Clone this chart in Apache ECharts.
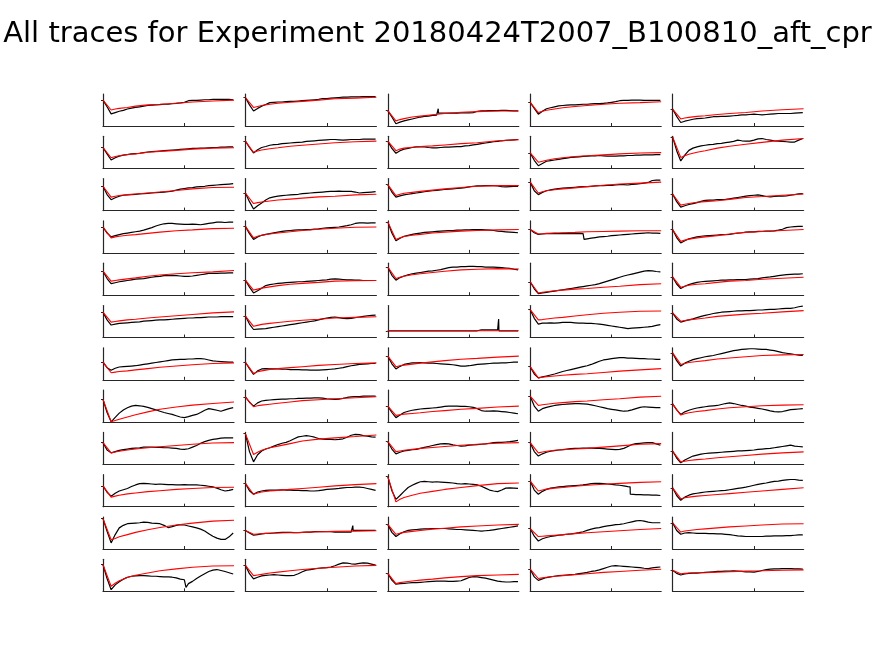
<!DOCTYPE html>
<html><head><meta charset="utf-8">
<script src="https://cdn.jsdelivr.net/npm/echarts@6/dist/echarts.min.js"></script>
<style>html,body{margin:0;padding:0;background:#fff}#c{width:875px;height:656px}</style>
</head><body><div id="c"></div>
<script>
const titleText = "All traces for Experiment 20180424T2007_B100810_aft_cpr";
const blackStep = 50;
const xMax = 1610;
const xTickValue = 1000;
const redX = [0,100,150,200,300,400,550,700,900,1100,1350,1610];

const b1_1=[81,60,38,42,46,49,53,56,58,60,62,64,65,66,67,68,68,70,71,72,74,79,80,80,81,82,82,83,83,83,83,83,82];
const r1_1=[81,50,53,55,58,62,66,68,71,75,78,81];
const b1_2=[89,66,47,55,62,67,73,74,75,75,76,77,77,78,79,80,81,82,83,86,86,87,88,89,90,90,91,91,91,92,92,92,92];
const r1_2=[89,58,61,64,68,71,74,77,81,85,87,90];
const b1_3=[48,28,7,12,16,19,22,25,28,30,31,33,34,40,40,40,40,40,41,41,41,42,46,47,47,48,48,48,49,49,48,47,47];
const r1_3=[48,16,20,23,28,31,35,39,43,45,47,47];
const e1_3=[[618,34],[620,54],[622,40]];
const b1_4=[74,55,37,46,54,57,60,63,64,65,66,66,67,68,68,69,70,70,71,72,74,76,79,80,80,81,81,81,80,80,80,80,80];
const r1_4=[74,42,46,49,53,57,61,64,68,71,73,76];
const b1_5=[53,30,11,15,18,21,23,24,25,27,29,29,30,30,31,32,33,35,35,36,37,36,35,36,37,38,39,39,39,39,40,41,42];
const r1_5=[53,22,25,27,30,32,36,39,42,47,51,54];

const b2_1=[65,45,26,33,38,41,43,45,46,47,49,51,52,53,54,55,56,57,58,59,60,61,62,62,63,63,64,65,65,66,66,67,67];
const r2_1=[65,33,37,39,43,45,50,53,56,60,63,64];
const b2_2=[85,65,48,58,65,68,72,74,75,77,78,79,80,81,82,84,85,86,87,88,89,90,90,89,88,89,90,90,90,91,91,91,91];
const r2_2=[85,50,54,57,61,64,69,72,76,80,83,85];
const b2_3=[85,62,47,55,60,62,65,67,68,67,65,64,64,65,66,66,67,68,68,70,71,73,75,77,79,81,83,84,86,87,88,89,90];
const r2_3=[85,55,60,63,66,68,70,73,77,80,86,89];
const b2_4=[48,25,8,15,22,24,26,28,30,32,34,35,36,37,38,39,39,40,39,38,38,38,39,39,40,40,41,41,42,42,42,43,43];
const r2_4=[48,19,22,25,30,33,37,39,42,45,48,49];
const b2_5=[98,55,23,41,56,63,67,70,72,74,75,77,78,80,82,84,88,86,85,85,88,92,93,90,88,86,85,84,83,82,82,88,93];
const r2_5=[98,34,39,44,50,55,63,69,75,81,88,93];

const b3_1=[76,50,34,40,45,48,49,50,51,52,53,54,55,56,57,58,59,61,64,67,69,71,72,74,75,76,78,79,80,81,82,83,84];
const r3_1=[76,42,45,47,50,52,55,58,63,68,72,73];
const b3_2=[55,28,5,15,24,33,40,43,45,47,48,49,50,51,53,54,55,56,57,58,59,60,60,61,60,60,60,58,55,56,57,58,59];
const r3_2=[55,22,25,27,30,33,36,39,43,45,49,51];
const b3_3=[81,58,42,46,49,51,53,55,57,59,61,62,63,65,66,67,68,69,70,72,74,76,77,77,78,78,78,77,75,74,75,76,76];
const r3_3=[81,47,51,54,57,60,64,68,72,76,78,78];
const b3_4=[89,62,50,57,62,65,67,69,70,71,72,73,74,75,75,76,77,78,78,79,79,80,81,81,80,82,83,84,86,88,94,95,95];
const r3_4=[89,55,59,62,65,68,71,75,79,83,86,89];
const b3_5=[52,28,11,15,19,22,25,29,32,33,33,34,34,35,37,39,41,43,45,47,48,49,47,44,43,44,45,45,46,48,50,52,53];
const r3_5=[52,17,20,22,26,28,31,35,41,44,48,52];

const b4_1=[81,62,50,54,57,60,62,64,66,68,71,75,79,84,88,91,92,92,91,90,89,89,90,89,88,90,92,94,96,96,95,96,96];
const r4_1=[81,47,50,52,55,57,61,65,69,72,76,77];
const b4_2=[83,60,42,50,55,58,60,63,65,67,69,70,71,72,72,73,73,74,75,77,78,79,80,81,83,85,88,92,94,94,93,94,94];
const r4_2=[83,47,52,55,59,62,66,70,74,77,80,81];
const b4_3=[97,62,38,46,52,55,58,60,62,64,65,66,67,68,69,70,70,71,71,72,72,73,73,73,72,71,70,68,67,66,65,64,63];
const r4_3=[97,42,47,51,55,58,62,65,68,70,72,73];
const b4_4=[73,63,58,59,60,60,61,60,61,60,61,60,61,60,44,46,48,50,51,52,54,55,56,57,58,59,60,61,62,63,62,62,61];
const r4_4=[73,59,60,61,62,63,64,66,67,68,69,69];
const e4_4=[[660,60],[662,42]];
const b4_5=[73,48,31,38,44,47,50,52,53,54,55,56,57,57,58,60,62,63,65,66,66,67,67,68,68,69,71,74,79,81,82,83,83];
const r4_5=[73,36,40,43,47,50,54,59,64,67,70,73];

const b5_1=[75,52,36,39,42,44,46,48,50,51,52,54,56,58,59,61,61,62,61,60,59,59,60,62,64,66,68,68,68,69,69,70,70];
const r5_1=[75,44,46,48,51,54,59,63,67,70,73,77];
const b5_2=[47,25,7,14,22,30,33,35,37,38,39,40,41,42,42,43,44,45,46,47,48,50,51,50,49,48,48,47,47,46,46,46,46];
const r5_2=[47,16,19,22,26,30,34,37,40,44,45,46];
const b5_3=[88,62,47,55,60,64,67,69,71,73,75,76,78,80,83,86,88,88,89,89,90,90,89,89,88,88,88,87,86,85,84,81,79];
const r5_3=[88,52,56,59,64,67,71,75,79,81,83,82];
const b5_4=[42,20,5,7,9,11,13,15,17,19,21,23,25,27,29,31,33,36,40,44,48,52,56,60,63,66,69,72,75,77,76,74,73];
const r5_4=[42,7,9,11,14,16,19,21,25,28,33,36];
const b5_5=[57,35,21,28,33,37,40,42,43,44,45,46,47,47,48,48,49,49,49,50,51,52,54,56,57,59,61,63,64,65,66,66,67];
const r5_5=[57,25,28,31,34,36,40,44,46,50,53,56];

const b6_1=[79,55,39,42,44,45,46,47,48,49,51,52,53,54,55,55,56,57,58,59,60,61,61,62,62,63,64,64,64,65,65,65,65];
const r6_1=[79,48,50,52,55,57,61,64,68,72,77,80];
const b6_2=[67,42,25,26,27,28,30,32,34,36,38,40,42,44,46,48,50,52,55,58,61,63,64,62,60,59,60,62,64,66,68,69,70];
const r6_2=[67,35,38,41,44,47,51,54,57,61,63,65];
const b6_3=[21,21,21,21,21,21,21,21,21,21,21,21,21,21,21,21,21,21,21,21,21,21,21,24,24,24,24,24,21,21,21,21,21];
const r6_3=[21,21,21,21,21,21,21,21,21,21,21,21];
const e6_3=[[1358,24],[1362,58],[1366,21]];
const b6_4=[87,60,42,45,45,46,45,46,47,47,47,46,45,45,44,44,43,42,40,38,36,34,32,30,28,29,30,31,32,33,35,38,40];
const r6_4=[87,55,56,58,61,63,67,71,76,79,82,83];
const b6_5=[77,58,48,52,55,58,62,66,69,72,75,77,79,80,81,82,83,83,84,84,85,86,86,87,88,88,89,90,91,91,93,96,98];
const r6_5=[77,51,53,55,58,61,66,69,73,76,80,84];

const b7_1=[55,38,30,36,40,41,42,43,44,46,48,50,52,54,56,58,60,62,63,64,64,65,65,66,66,65,62,59,58,57,56,55,55];
const r7_1=[55,22,24,26,28,31,35,39,43,47,51,53];
const b7_2=[55,35,17,28,34,35,34,34,34,33,33,32,32,32,31,31,30,30,30,31,32,33,34,36,38,41,44,46,48,49,50,51,51];
const r7_2=[55,20,25,28,32,35,38,41,45,48,51,53];
const b7_3=[74,50,34,42,48,51,53,53,54,53,52,52,51,50,49,48,47,45,43,43,44,46,48,49,50,51,52,52,53,53,54,55,55];
const r7_3=[74,41,44,46,49,52,56,60,64,67,71,74];
const b7_4=[41,18,6,9,12,15,18,22,26,29,32,35,38,41,44,48,53,58,62,64,66,68,69,69,68,68,67,66,66,65,65,64,64];
const r7_4=[41,6,8,10,12,14,17,19,23,27,31,35];
const b7_5=[84,60,43,52,58,63,66,69,72,74,76,79,82,85,88,91,93,95,96,97,97,96,95,95,93,91,88,85,83,81,79,77,76];
const r7_5=[84,48,51,54,57,60,65,68,72,76,78,79];

const b8_1=[71,30,1,15,28,38,45,50,52,51,49,46,42,38,34,30,27,24,20,16,14,17,21,24,30,37,42,40,37,34,38,42,45];
const r8_1=[71,1,5,9,16,23,32,40,47,53,58,63];
const b8_2=[79,62,50,60,66,68,69,70,71,72,72,73,73,74,74,75,75,76,76,75,73,72,71,72,74,77,79,80,80,81,81,81,81];
const r8_2=[79,48,51,53,56,59,63,67,70,73,76,79];
const b8_3=[50,30,14,22,30,34,37,39,41,42,43,44,45,47,49,50,50,50,49,49,48,46,42,36,34,34,35,34,33,32,30,28,26];
const r8_3=[50,21,23,25,27,29,33,36,40,43,47,50];
const b8_4=[81,50,34,42,46,49,52,54,55,56,57,58,58,57,56,54,51,48,45,42,40,38,36,34,35,38,42,46,48,47,46,45,45];
const r8_4=[81,52,54,56,59,61,64,66,70,73,78,81];
const b8_5=[57,38,24,32,37,41,44,46,48,50,51,52,55,58,60,58,55,52,50,47,45,43,41,38,35,33,32,33,36,39,40,41,42];
const r8_5=[57,22,26,29,33,36,41,45,48,51,53,54];

const b9_1=[68,45,36,40,44,46,48,50,51,52,54,54,54,53,53,52,52,51,50,48,47,49,54,59,66,71,75,78,80,82,83,83,83];
const r9_1=[68,36,39,41,45,48,52,55,59,63,67,68];
const b9_2=[96,40,8,30,42,48,52,57,62,66,69,74,80,86,88,90,88,85,81,79,78,78,77,78,80,85,91,94,93,90,88,86,85];
const r9_2=[96,31,38,44,52,57,65,73,79,83,87,92];
const b9_3=[71,48,33,38,42,44,46,47,50,53,56,59,62,64,65,64,61,59,57,58,60,61,62,63,64,66,68,69,69,70,71,73,75];
const r9_3=[71,40,42,44,47,50,53,56,60,63,66,68];
const b9_4=[68,40,26,33,38,41,43,45,46,48,49,50,50,51,51,51,50,50,49,48,47,46,47,50,56,62,65,66,67,68,68,64,60];
const r9_4=[68,36,39,41,44,46,48,50,54,58,63,65];
const b9_5=[42,20,5,14,20,26,29,32,34,35,36,37,38,39,40,41,42,42,43,44,45,47,48,49,50,52,54,56,58,60,57,56,55];
const r9_5=[42,8,10,12,15,17,21,24,28,32,36,39];

const b10_1=[65,45,33,42,49,53,57,63,68,72,73,72,71,70,71,70,69,69,68,68,69,68,68,68,67,66,64,62,58,53,49,51,54];
const r10_1=[65,30,33,36,40,43,47,50,54,57,60,61];
const b10_2=[73,50,39,46,49,51,52,52,52,53,52,52,51,51,50,50,49,49,50,52,54,55,56,57,59,60,60,61,61,60,57,54,51];
const r10_2=[73,39,43,46,49,51,54,57,61,65,69,72];
const b10_3=[94,50,23,35,48,60,67,73,78,79,78,77,78,77,76,75,74,72,71,72,71,70,68,64,58,52,49,47,52,58,59,58,57];
const r10_3=[94,15,23,29,36,42,48,54,60,66,72,74];
const b10_4=[80,52,39,48,54,58,60,62,63,64,65,66,67,68,70,72,73,73,72,71,70,68,67,65,63,39,38,38,37,37,36,36,35];
const r10_4=[80,49,52,55,58,60,64,67,70,73,76,78];
const e10_4=[[1228,62],[1230,39]];
const b10_5=[59,35,20,30,36,40,42,44,46,47,48,49,50,51,53,55,57,59,61,64,67,70,72,74,77,79,80,82,84,85,85,83,82];
const r10_5=[59,25,28,30,33,35,38,41,45,49,54,59];

const b11_1=[95,55,19,45,66,74,79,80,81,82,84,83,81,80,79,74,67,70,74,76,75,72,69,66,62,56,48,40,34,30,30,38,50];
const r11_1=[95,29,33,38,45,52,60,67,75,81,87,90];
const b11_2=[58,50,43,45,47,49,49,50,51,52,52,52,51,51,52,53,53,54,54,54,54,54,53,53,53,53,53,58,58,58,58,58,58];
const r11_2=[58,46,47,48,49,50,51,52,54,55,56,57];
const e11_2=[[1318,53],[1320,73],[1324,58]];
const b11_3=[77,52,39,48,54,58,60,61,62,63,63,64,64,64,64,63,62,61,61,60,59,58,57,56,57,58,60,62,64,66,68,70,72];
const r11_3=[77,46,49,52,55,58,62,65,69,72,75,77];
const b11_4=[64,40,25,32,36,39,41,43,44,46,47,49,51,54,58,62,65,67,70,72,74,76,77,79,82,85,88,89,87,84,82,82,82];
const r11_4=[64,39,40,41,43,45,48,51,54,57,61,64];
const b11_5=[82,58,46,50,51,50,49,49,49,48,48,47,47,46,45,43,41,40,39,39,39,39,39,40,40,41,41,41,42,42,43,44,44];
const r11_5=[82,53,56,58,61,63,66,69,72,75,78,79];

const b12_1=[83,40,5,20,30,38,44,47,48,49,49,48,47,47,46,45,45,44,42,38,36,24,31,40,48,55,62,66,68,65,62,58,54];
const r12_1=[83,16,25,33,43,50,57,64,70,75,79,80];
const e12_1=[[1020,12]];
const b12_2=[81,55,39,44,48,50,51,52,51,50,49,49,50,55,61,66,68,70,72,73,74,76,80,85,89,88,86,85,87,89,88,85,82];
const r12_2=[81,49,51,53,57,60,64,68,72,75,79,81];
const b12_3=[56,35,22,24,25,26,27,27,28,29,30,31,32,32,32,31,31,32,33,38,43,46,45,43,41,38,35,32,30,29,29,30,30];
const r12_3=[56,24,27,29,32,35,38,42,46,49,51,53];
const b12_4=[69,45,34,39,43,45,47,49,50,51,52,53,55,57,59,62,64,67,71,75,79,80,79,78,77,76,75,74,72,71,73,75,76];
const r12_4=[69,40,42,44,47,49,52,55,59,62,66,69];
const b12_5=[66,56,51,54,56,57,57,58,59,60,61,62,62,63,63,64,63,62,61,61,60,62,65,68,69,70,70,71,71,71,70,70,69];
const r12_5=[66,55,56,57,58,58,60,61,63,64,66,67];

const blackTraces=[b1_1,b1_2,b1_3,b1_4,b1_5,b2_1,b2_2,b2_3,b2_4,b2_5,b3_1,b3_2,b3_3,b3_4,b3_5,b4_1,b4_2,b4_3,b4_4,b4_5,b5_1,b5_2,b5_3,b5_4,b5_5,b6_1,b6_2,b6_3,b6_4,b6_5,b7_1,b7_2,b7_3,b7_4,b7_5,b8_1,b8_2,b8_3,b8_4,b8_5,b9_1,b9_2,b9_3,b9_4,b9_5,b10_1,b10_2,b10_3,b10_4,b10_5,b11_1,b11_2,b11_3,b11_4,b11_5,b12_1,b12_2,b12_3,b12_4,b12_5];
const redFits=[r1_1,r1_2,r1_3,r1_4,r1_5,r2_1,r2_2,r2_3,r2_4,r2_5,r3_1,r3_2,r3_3,r3_4,r3_5,r4_1,r4_2,r4_3,r4_4,r4_5,r5_1,r5_2,r5_3,r5_4,r5_5,r6_1,r6_2,r6_3,r6_4,r6_5,r7_1,r7_2,r7_3,r7_4,r7_5,r8_1,r8_2,r8_3,r8_4,r8_5,r9_1,r9_2,r9_3,r9_4,r9_5,r10_1,r10_2,r10_3,r10_4,r10_5,r11_1,r11_2,r11_3,r11_4,r11_5,r12_1,r12_2,r12_3,r12_4,r12_5];
const extraPoints={2:e1_3,18:e4_4,27:e6_3,48:e10_4,51:e11_2,55:e12_1};

const nRows=12, nCols=5;
const grids=[], xAxes=[], yAxes=[], series=[];
const axisColor='#262626';
for(let k=0;k<nRows*nCols;k++){
  const r=Math.floor(k/nCols), c=k%nCols;
  grids.push({left:103+c*142.4, top:94+r*42.3, width:131, height:32});
  xAxes.push({type:'value', gridIndex:k, min:0, max:xMax,
    axisLine:{show:true,onZero:false,lineStyle:{color:axisColor,width:1.2}},
    axisTick:{show:true,inside:true,length:3,customValues:[xTickValue],lineStyle:{color:axisColor}},
    axisLabel:{show:false}, splitLine:{show:false}});
  const blk=blackTraces[k].map((v,i)=>[i*blackStep,v]);
  const ex=extraPoints[k]||[];
  const pts=blk.concat(ex).sort((a,b)=>a[0]-b[0]);
  const red=redFits[k].map((v,i)=>[redX[i],v]);
  yAxes.push({type:'value', gridIndex:k, min:0, max:100,
    axisLine:{show:true,onZero:false,lineStyle:{color:axisColor,width:1.2}},
    axisTick:{show:true,inside:false,length:2,customValues:[redFits[k][0]],lineStyle:{color:axisColor}},
    axisLabel:{show:false}, splitLine:{show:false}});
  series.push({type:'line', xAxisIndex:k, yAxisIndex:k, data:pts, showSymbol:false, silent:true,
    lineStyle:{color:'#000',width:1.2}, z:2});
  series.push({type:'line', xAxisIndex:k, yAxisIndex:k, data:red, showSymbol:false, silent:true,
    lineStyle:{color:'#ff0000',width:1.1}, z:3});
}
const chart=echarts.init(document.getElementById('c'),null,{renderer:'canvas'});
chart.setOption({
  animation:false,
  backgroundColor:'#fff',
  title:{text:titleText,left:'center',top:15,textStyle:{fontFamily:'DejaVu Sans',fontSize:29,fontWeight:'normal',color:'#000'}},
  grid:grids, xAxis:xAxes, yAxis:yAxes, series:series
});
</script></body></html>
